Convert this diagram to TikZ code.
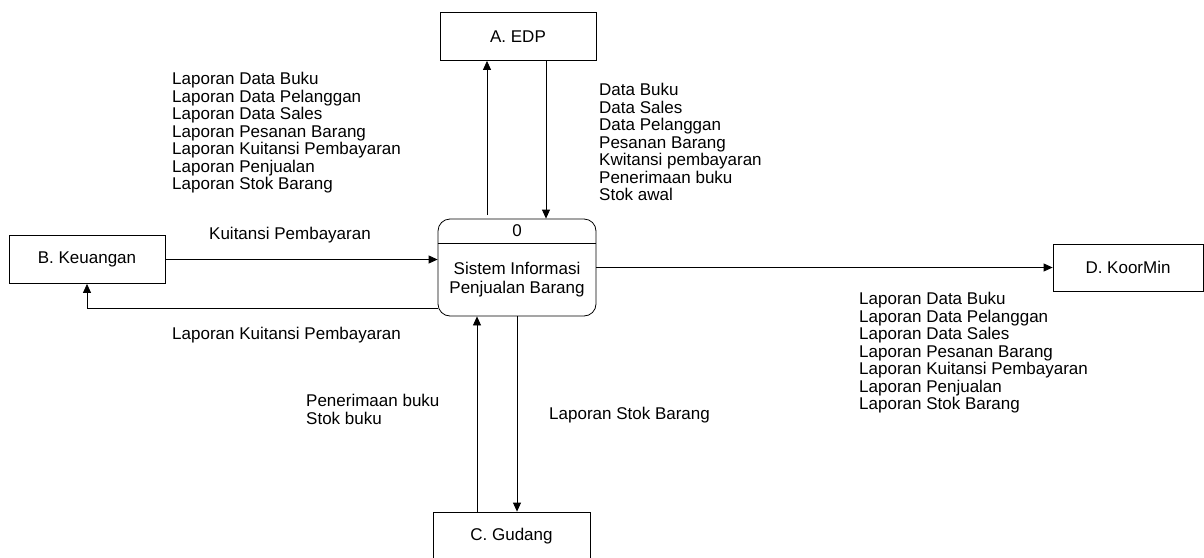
\documentclass[tikz,border=0pt]{standalone}
\usepackage{fontspec}
\setmainfont{Liberation Sans}
\usetikzlibrary{arrows.meta}
\begin{document}
\begin{tikzpicture}[x=1pt,y=-1pt,
  every node/.style={inner sep=0pt},
  txt/.style={font=\fontsize{17}{17.5}\selectfont},
  lbl/.style={txt,align=left,anchor=north west},
  entity/.style={draw,line width=0.8pt,txt,minimum width=156pt,minimum height=48pt},
  procbox/.style={draw,line width=0.8pt,rounded corners=12pt,minimum width=158pt,minimum height=97pt},
  flow/.style={line width=0.8pt,-{Triangle[length=9pt,width=8pt]}}]
\useasboundingbox (0,0) rectangle (1204,557);

% external entities
\node[entity] (edp) at (518,36.5) {A. EDP};
\node[entity] (keu) at (87,259.5) {B. Keuangan};
\node[entity,minimum width=157pt,minimum height=49pt] (gud) at (511.5,536.5) {C. Gudang};
\node[entity,minimum width=150pt,minimum height=47pt] (koor) at (1128,267.5) {D. KoorMin};

% process 0
\node[procbox] (proc) at (517,267.5) {};
\coordinate (divy) at (0,243);
\draw[line width=0.8pt] (proc.west |- divy) -- (proc.east |- divy);
\node[txt] (pnum) at (517,231) {0};
\node[txt,align=center,font=\fontsize{17}{19}\selectfont] (pname) at (517,280) {Sistem Informasi\\Penjualan Barang};

% connector columns and rows
\coordinate (xup) at (487,0);
\coordinate (xdn) at (546,0);
\coordinate (xgu) at (477,0);
\coordinate (xgd) at (517,0);
\coordinate (yret) at (0,308);
\coordinate (ytop) at (0,215);

% flows
\draw[flow] (xup |- ytop) -- (xup |- edp.south);
\draw[flow] (xdn |- edp.south) -- (xdn |- proc.north);
\draw[flow] (keu.east) -- (keu.east -| proc.west);
\draw[flow] (proc.west |- yret) -| (keu.south);
\draw[flow] (xgu |- gud.north) -- (xgu |- proc.south);
\draw[flow] (xgd |- proc.south) -- (xgd |- gud.north);
\draw[flow] (proc.east |- koor.west) -- (koor.west);

% flow labels
\node[lbl] (l1) at (172,72) {Laporan Data Buku\\Laporan Data Pelanggan\\Laporan Data Sales\\Laporan Pesanan Barang\\Laporan Kuitansi Pembayaran\\Laporan Penjualan\\Laporan Stok Barang};
\node[lbl] (l2) at (599,83) {Data Buku\\Data Sales\\Data Pelanggan\\Pesanan Barang\\Kwitansi pembayaran\\Penerimaan buku\\Stok awal};
\node[lbl] (l3) at (209,227) {Kuitansi Pembayaran};
\node[lbl] (l4) at (172,327) {Laporan Kuitansi Pembayaran};
\node[lbl] (l5) at (306,394) {Penerimaan buku\\Stok buku};
\node[lbl] (l6) at (549,407) {Laporan Stok Barang};
\node[lbl] (l7) at (859,292) {Laporan Data Buku\\Laporan Data Pelanggan\\Laporan Data Sales\\Laporan Pesanan Barang\\Laporan Kuitansi Pembayaran\\Laporan Penjualan\\Laporan Stok Barang};
\end{tikzpicture}
\end{document}
